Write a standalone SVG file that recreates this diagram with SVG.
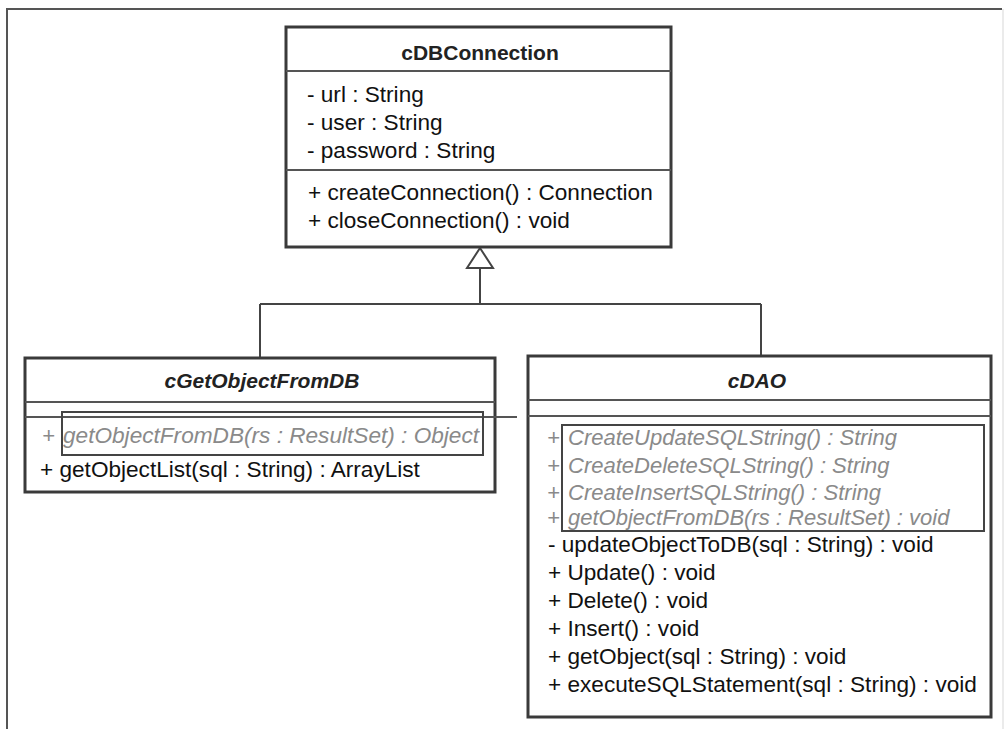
<svg xmlns="http://www.w3.org/2000/svg" width="1008" height="729" viewBox="0 0 1008 729">
<style>
.box{fill:#fff;stroke:#3a3a3a;stroke-width:3}
.sep{stroke:#555;stroke-width:2;fill:none}
.hl{fill:none;stroke:#444;stroke-width:2}
.t{font-family:"Liberation Sans",Arial,sans-serif;font-size:22.6px;fill:#111}
.title{font-family:"Liberation Sans",Arial,sans-serif;font-size:21px;font-weight:bold;fill:#222;text-anchor:middle}
.it{font-style:italic}
.g{font-family:"Liberation Sans",Arial,sans-serif;font-size:22px;fill:#8a8a8a;font-style:italic}
.conn{stroke:#444;stroke-width:2;fill:none}
.frame{stroke:#555;stroke-width:2;fill:none}
</style>
<rect width="1008" height="729" fill="#fff"/>
<g id="frame">
<path class="frame" d="M7,729 V9 H1002"/>
<line x1="1003" y1="9" x2="1003" y2="729" stroke="#e4e4e4" stroke-width="1.5"/>
</g>
<g id="connectors">
<path class="conn" d="M480,268 V304 M260,304 H761 M260,304 V358 M761,304 V356"/>
<polygon points="480,248 467,268 493,268" fill="#fff" stroke="#444" stroke-width="2"/>
</g>
<g id="cDBConnection">
<rect class="box" x="286" y="27" width="385" height="220"/>
<line class="sep" x1="286" y1="71" x2="671" y2="71"/>
<line class="sep" x1="286" y1="170" x2="671" y2="170"/>
<text class="title" x="480" y="60">cDBConnection</text>
<text class="t" x="307" y="102">- url : String</text>
<text class="t" x="307" y="130">- user : String</text>
<text class="t" x="307" y="158">- password : String</text>
<text class="t" x="308" y="200">+ createConnection() : Connection</text>
<text class="t" x="308" y="228">+ closeConnection() : void</text>
</g>
<g id="cGetObjectFromDB">
<rect class="box" x="25" y="358" width="470" height="134"/>
<line class="sep" x1="25" y1="402" x2="495" y2="402"/>
<line class="sep" x1="25" y1="417" x2="517" y2="417"/>
<text class="title it" x="262" y="388">cGetObjectFromDB</text>
<rect class="hl" x="62" y="412" width="421" height="43"/>
<text class="g" x="42" y="443">+</text>
<text class="g" x="63" y="443" textLength="416" lengthAdjust="spacingAndGlyphs">getObjectFromDB(rs : ResultSet) : Object</text>
<text class="t" x="40" y="477">+ getObjectList(sql : String) : ArrayList</text>
</g>
<g id="cDAO">
<rect class="box" x="528" y="356" width="463" height="361"/>
<line class="sep" x1="528" y1="400" x2="991" y2="400"/>
<line class="sep" x1="528" y1="416" x2="991" y2="416"/>
<text class="title it" x="757" y="388">cDAO</text>
<rect class="hl" x="562" y="425" width="422" height="106"/>
<text class="g" x="547" y="445">+</text>
<text class="g" x="547" y="473">+</text>
<text class="g" x="547" y="500">+</text>
<text class="g" x="547" y="525">+</text>
<text class="g" x="568" y="445">CreateUpdateSQLString() : String</text>
<text class="g" x="568" y="473">CreateDeleteSQLString() : String</text>
<text class="g" x="568" y="500">CreateInsertSQLString() : String</text>
<text class="g" x="568" y="525">getObjectFromDB(rs : ResultSet) : void</text>
<text class="t" x="548" y="552">- updateObjectToDB(sql : String) : void</text>
<text class="t" x="548" y="580">+ Update() : void</text>
<text class="t" x="548" y="608">+ Delete() : void</text>
<text class="t" x="548" y="636">+ Insert() : void</text>
<text class="t" x="548" y="664">+ getObject(sql : String) : void</text>
<text class="t" x="548" y="692">+ executeSQLStatement(sql : String) : void</text>
</g>
</svg>
